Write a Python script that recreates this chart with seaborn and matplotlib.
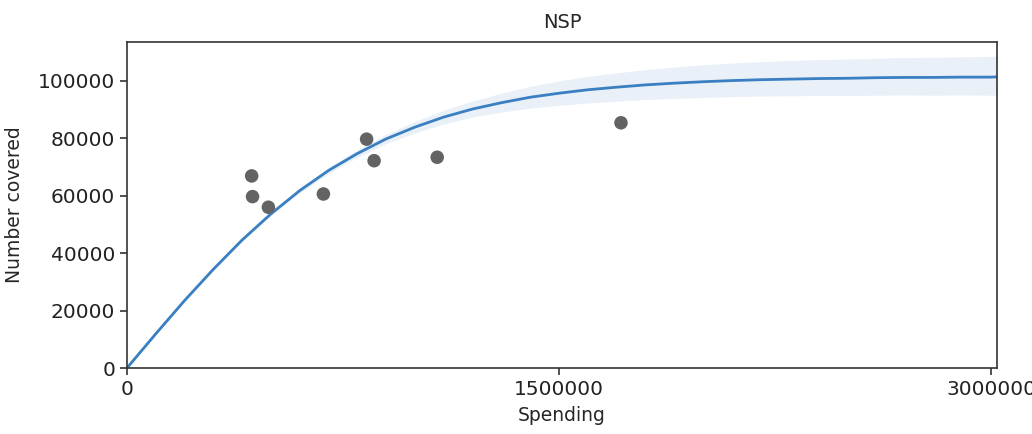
import numpy as np
import pandas as pd
import matplotlib
matplotlib.use("Agg")
import matplotlib.pyplot as plt
import seaborn as sns

# observed programme data (spending vs number covered)
spending = [433000, 436000, 491000, 682000, 832000, 858000, 1077000, 1715000]
covered = [66900, 59700, 56000, 60600, 79700, 72200, 73400, 85400]

# fitted curve and its uncertainty band (thousands)
curve_x = [0, 100000, 200000, 300000, 400000, 500000, 600000, 700000, 800000,
           900000, 1000000, 1100000, 1200000, 1300000, 1400000, 1500000,
           1600000, 1700000, 1800000, 1900000, 2000000, 2100000, 2200000,
           2300000, 2400000, 2500000, 2600000, 2700000, 2800000, 2900000,
           3000000, 3020000]
curve_mid = [0, 11.9, 23.5, 34.4, 44.6, 53.7, 61.8, 68.8, 74.7, 79.8, 83.9,
             87.4, 90.2, 92.4, 94.3, 95.7, 96.9, 97.8, 98.6, 99.2, 99.7,
             100.1, 100.4, 100.6, 100.8, 100.9, 101.1, 101.2, 101.2, 101.3,
             101.3, 101.4]
curve_low = [0, 11.7, 23.2, 34.0, 44.1, 53.1, 61.0, 67.8, 73.4, 78.2, 81.9,
             85.0, 87.4, 89.1, 90.5, 91.5, 92.3, 92.9, 93.5, 93.9, 94.2,
             94.5, 94.7, 94.8, 94.9, 94.9, 95.0, 95.1, 95.0, 95.1, 95.0, 95.1]
curve_high = [0, 12.1, 23.8, 34.8, 45.1, 54.3, 62.6, 69.8, 76.0, 81.4, 85.9,
              89.8, 93.0, 95.7, 98.1, 100.0, 101.6, 102.8, 103.9, 104.8,
              105.6, 106.2, 106.7, 107.1, 107.4, 107.6, 107.9, 108.1, 108.2,
              108.4, 108.5, 108.6]

x_ticks = [0, 1500000, 3000000]

sns.set_style("ticks")
plt.rcParams['font.family'] = ['DejaVu Sans']

points = pd.DataFrame({'Spending': spending, 'Number covered': covered})
fit = pd.DataFrame({
    'Spending': curve_x,
    'mid': np.array(curve_mid) * 1000,
    'low': np.array(curve_low) * 1000,
    'high': np.array(curve_high) * 1000,
})

fig, ax = plt.subplots(figsize=(10.32, 4.34), dpi=100)
fig.subplots_adjust(left=0.123, right=0.966, top=0.903, bottom=0.152)

line_col = '#3a7fc1'
ax.fill_between(fit['Spending'], fit['low'], fit['high'],
                color=line_col, alpha=0.11, linewidth=0)
sns.lineplot(data=fit, x='Spending', y='mid', color=line_col,
             linewidth=2.0, ax=ax, solid_joinstyle='round')
sns.scatterplot(data=points, x='Spending', y='Number covered',
                color='#636363', s=95, edgecolor='none', ax=ax, zorder=3)

ax.set_xlim(0, 3020000)
ax.set_ylim(0, 113500)
ax.set_xticks(x_ticks)
ax.set_xticklabels([str(t) for t in x_ticks])
ax.set_yticks(range(0, 100001, 20000))
ax.set_xlabel('Spending', fontsize=13.5, labelpad=5)
ax.set_ylabel('Number covered', fontsize=13.5, labelpad=10)
ax.set_title('NSP', fontsize=14, pad=10)
ax.tick_params(length=5, width=1.1, colors='#222222', labelsize=14.5)
for sp in ax.spines.values():
    sp.set_color('#333333')
    sp.set_linewidth(1.2)

fig.savefig('out.png', dpi=100)
